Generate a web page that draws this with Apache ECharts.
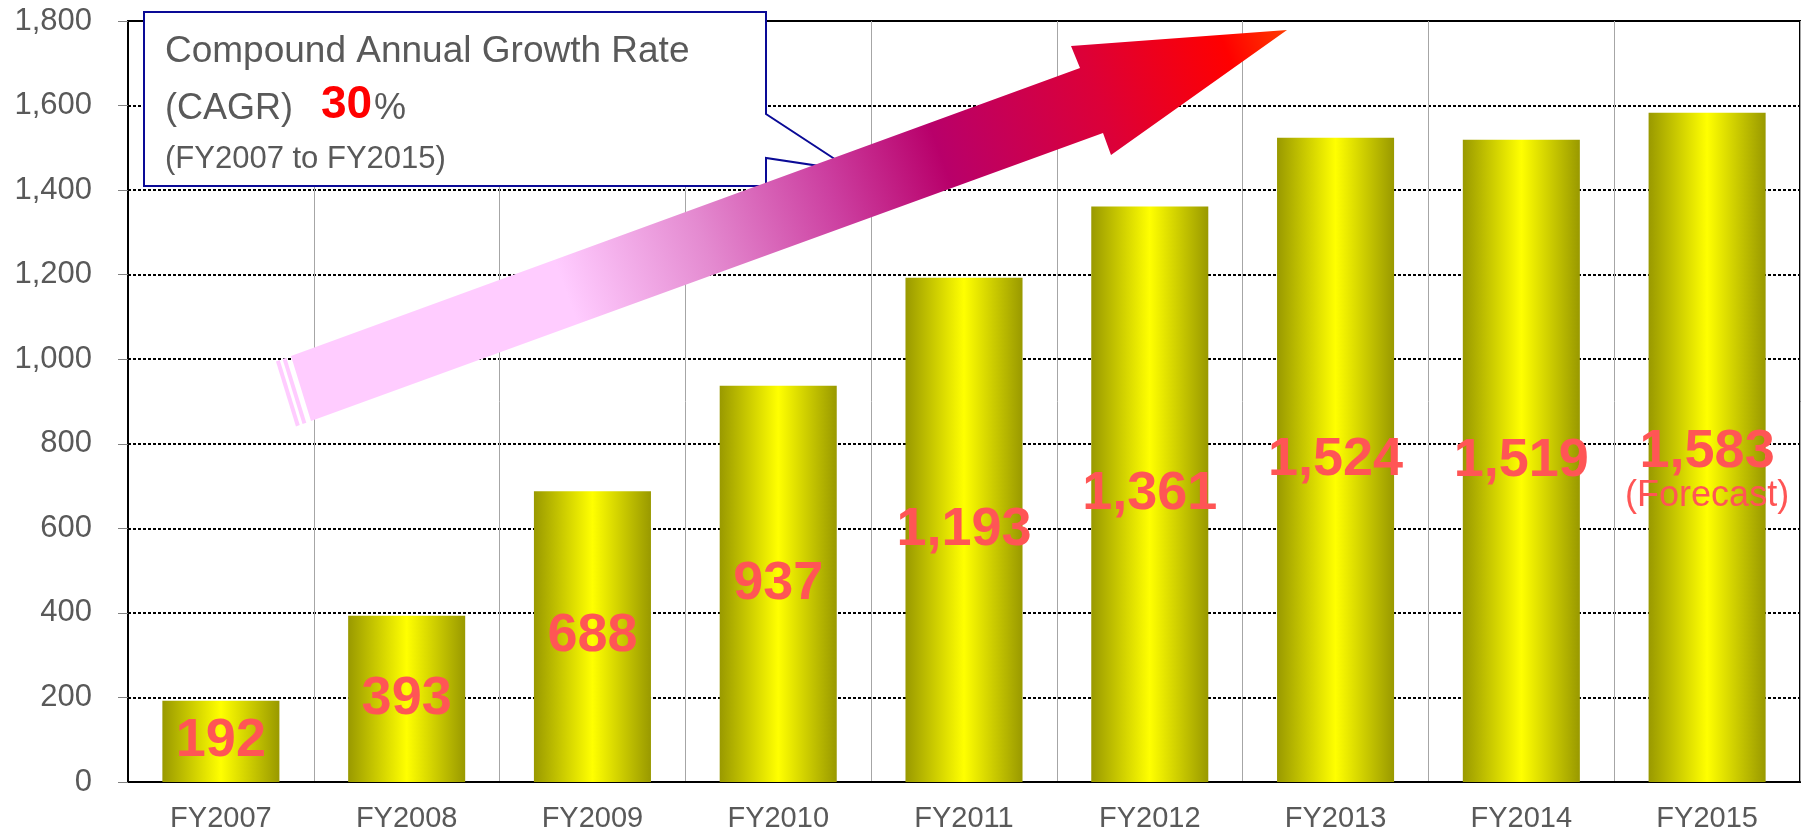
<!DOCTYPE html>
<html><head><meta charset="utf-8">
<script src="https://cdn.jsdelivr.net/npm/echarts@6/dist/echarts.min.js"></script>
<style>html,body{margin:0;padding:0;background:#fff}#c{width:1806px;height:832px}</style>
</head><body><div id="c"></div><script>
// ---- data ----
const categories = ['FY2007','FY2008','FY2009','FY2010','FY2011','FY2012','FY2013','FY2014','FY2015'];
const values = [192, 393, 688, 937, 1193, 1361, 1524, 1519, 1583];
const forecastIndex = 8;
const forecastNote = '(Forecast)';
const yMin = 0, yMax = 1800, yStep = 200;
const calloutTitle = 'Compound Annual Growth Rate';
const calloutAbbr = '(CAGR)';
const calloutRate = '30';
const calloutPct = '%';
const calloutPeriod = '(FY2007 to FY2015)';

const FONT = '"Liberation Sans", Arial, sans-serif';
const fmt = v => Number(v).toLocaleString('en-US');
const LABEL_COLOR = '#FF5555';

const seriesData = values.map((v, i) => {
  if (i !== forecastIndex) return v;
  return {
    value: v,
    label: {
      formatter: '{v|' + fmt(v) + '}\n{f|' + forecastNote + '}',
      offset: [0, 24],
      rich: {
        v: {fontSize: 54, fontWeight: 'bold', color: LABEL_COLOR, fontFamily: FONT, lineHeight: 50},
        f: {fontSize: 36, fontWeight: 'normal', color: LABEL_COLOR, fontFamily: FONT, lineHeight: 38}
      }
    }
  };
});

const chart = echarts.init(document.getElementById('c'), null, {renderer: 'canvas'});

// arrow geometry (annotation)
const d = [Math.cos(20 * Math.PI / 180), -Math.sin(20 * Math.PI / 180)];
const T = [291, 356], B = [311, 421];
function stripe(a, b) {
  return [
    [T[0] + a * d[0], T[1] + a * d[1]],
    [T[0] + b * d[0], T[1] + b * d[1]],
    [B[0] + b * d[0], B[1] + b * d[1]],
    [B[0] + a * d[0], B[1] + a * d[1]]
  ];
}
const arrowGrad = {
  type: 'linear', global: true, x: 300, y: 390, x2: 1286, y2: 30,
  colorStops: [
    {offset: 0, color: '#FFCCFF'},
    {offset: 0.27, color: '#FFCCFF'},
    {offset: 0.41, color: '#E48AD0'},
    {offset: 0.54, color: '#CC3FA0'},
    {offset: 0.65, color: '#B8006A'},
    {offset: 0.81, color: '#DC0038'},
    {offset: 0.94, color: '#FF0000'},
    {offset: 1, color: '#FF3A00'}
  ]
};

chart.setOption({
  animation: false,
  backgroundColor: '#fff',
  grid: {left: 128, right: 6, top: 21, bottom: 50, show: true, borderColor: '#000', borderWidth: 2, containLabel: false, outerBoundsMode: 'none'},
  xAxis: {
    type: 'category',
    data: categories,
    axisLine: {show: true, lineStyle: {color: '#000', width: 2}},
    axisTick: {show: false},
    axisLabel: {fontSize: 29, color: '#595959', fontFamily: FONT, margin: 22},
    splitLine: {show: true, interval: 0, lineStyle: {color: '#A6A6A6', width: 1}}
  },
  yAxis: {
    type: 'value',
    min: yMin, max: yMax, interval: yStep,
    axisLine: {show: true, lineStyle: {color: '#000', width: 2}},
    axisTick: {show: true, length: 10, lineStyle: {color: '#808080', width: 1}},
    axisLabel: {fontSize: 31, color: '#595959', fontFamily: FONT, margin: 36, formatter: v => fmt(v)},
    splitLine: {show: true, lineStyle: {color: '#000', width: 2, type: [3, 2]}}
  },
  series: [{
    type: 'bar',
    data: seriesData,
    barWidth: '63%',
    itemStyle: {
      color: {
        type: 'linear', x: 0, y: 0, x2: 1, y2: 0,
        colorStops: [
          {offset: 0, color: '#999900'},
          {offset: 0.5, color: '#FFFF00'},
          {offset: 1, color: '#999900'}
        ]
      }
    },
    label: {
      show: true, position: 'inside',
      fontSize: 54, fontWeight: 'bold', color: LABEL_COLOR, fontFamily: FONT,
      formatter: p => fmt(p.value)
    }
  }],
  graphic: {elements: [
    {type: 'polygon', z: 20, shape: {points: [[144,12],[766,12],[766,114],[853,171],[766,158],[766,186],[144,186]]},
     style: {fill: '#fff', stroke: '#0A0A96', lineWidth: 2}},
    {type: 'text', z: 21, x: 165, y: 52, style: {text: calloutTitle, fontSize: 37, fontFamily: FONT, fill: '#595959', verticalAlign: 'middle'}},
    {type: 'text', z: 21, x: 165, y: 109, style: {text: calloutAbbr, fontSize: 36, fontFamily: FONT, fill: '#595959', verticalAlign: 'middle'}},
    {type: 'text', z: 21, x: 321, y: 105, style: {text: calloutRate, fontSize: 46, fontWeight: 'bold', fontFamily: FONT, fill: '#FF0000', verticalAlign: 'middle'}},
    {type: 'text', z: 21, x: 374, y: 109, style: {text: calloutPct, fontSize: 36, fontFamily: FONT, fill: '#595959', verticalAlign: 'middle'}},
    {type: 'text', z: 21, x: 165, y: 159, style: {text: calloutPeriod, fontSize: 31, fontFamily: FONT, fill: '#595959', verticalAlign: 'middle'}},
    {type: 'polygon', z: 30, shape: {points: [[291,356],[1080,68],[1071,46],[1287,30],[1111,155],[1103,133],[311,421]]},
     style: {fill: arrowGrad}},
    {type: 'polygon', z: 30, shape: {points: stripe(-5, -9)}, style: {fill: '#FFCCFF'}},
    {type: 'polygon', z: 30, shape: {points: stripe(-12, -16)}, style: {fill: '#FFCCFF'}}
  ]}
});
</script></body></html>
